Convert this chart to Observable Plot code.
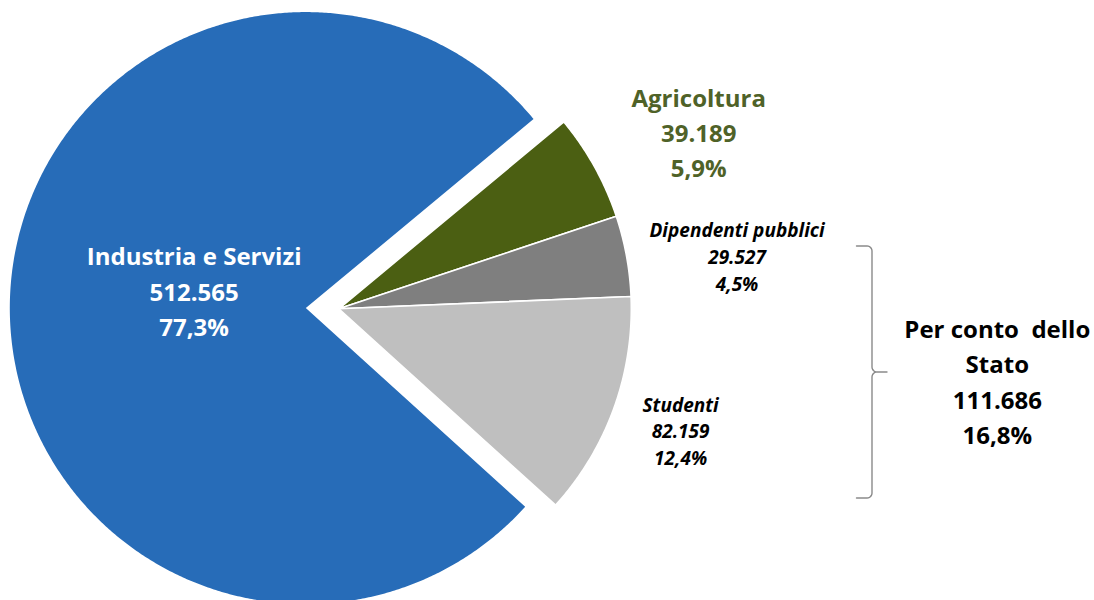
<!DOCTYPE html>
<html><head><meta charset="utf-8">
<script src="https://cdn.jsdelivr.net/npm/d3@7"></script>
<script src="https://cdn.jsdelivr.net/npm/@observablehq/plot@0.6"></script>
<style>
body{margin:0;background:#fff;}
svg text{white-space:pre;}
</style></head><body><div id="chart"></div>
<script>
// ---------- Data ----------
const categories = ["Agricoltura", "Dipendenti pubblici", "Studenti", "Industria e Servizi"];
const values = [39189, 29527, 82159, 512565];
const groupLabel = "Per conto  dello\nStato";
const groupMembers = ["Dipendenti pubblici", "Studenti"];

// ---------- Layout / style ----------
const W = 1094, H = 600;
const R = 292.5;               // pie radius (px)
const CX = 338.3, CY = 308.3;  // pie centre (px)
const startDeg = 50.3;         // first slice start, clockwise from 12 o'clock
const sliceColors = ["#4B5F12", "#7F7F7F", "#BFBFBF", "#276CB8"];
const explodePx = [0, 0, 0, 33];
const outerPx = [R, R, R, 296];
const sliceStroke = ["#fff", "#fff", "#fff", "none"];
// label placement: radius (in pie radii) and angle offset from slice bisector
const labelR = [1.310, 1.363, 1.285, 0.394];
const labelDTheta = [9.0, 7.8, 4.7, -15.5];
const labelFill = ["#4F6228", "#000", "#000", "#fff"];
const labelSize = [24, 19, 19, 24];
const labelStyle = ["normal", "italic", "italic", "normal"];
const labelLH = [1.46, 1.41, 1.41, 1.48];
const groupLabelR = 2.298, groupLabelDTheta = -0.3;
const FONT = "Open Sans";

const it = d3.formatLocale({decimal: ",", thousands: ".", grouping: [3], currency: ["", "€"]});
const fmtN = it.format(",d");
const fmtP = it.format(".1f");

const total = d3.sum(values);
const rad = d => d * Math.PI / 180;
const polar = (deg, r) => [r * Math.sin(rad(deg)), r * Math.cos(rad(deg))];

// slices
let acc = startDeg;
const slices = categories.map((name, i) => {
  const span = values[i] / total * 360;
  const a0 = acc, a1 = acc + span;
  acc = a1;
  const mid = (a0 + a1) / 2;
  const [ox, oy] = polar(mid, explodePx[i] / R);
  const ro = outerPx[i] / R;
  const pts = [{x: ox, y: oy}];
  const n = Math.max(2, Math.ceil(span / 0.4));
  for (let k = 0; k <= n; k++) {
    const [px, py] = polar(a0 + span * k / n, ro);
    pts.push({x: ox + px, y: oy + py});
  }
  const [lx, ly] = polar(mid + labelDTheta[i], labelR[i]);
  const label = {
    x: ox + lx, y: oy + ly,
    text: `${name}\n${fmtN(values[i])}\n${fmtP(values[i] / total * 100)}%`
  };
  return {name, i, a0, a1, mid, pts, label};
});

// group label ("Per conto dello Stato")
const members = slices.filter(s => groupMembers.includes(s.name));
const gVal = d3.sum(members, s => values[s.i]);
const gMid = (d3.min(members, s => s.a0) + d3.max(members, s => s.a1)) / 2;
const [gx, gy] = polar(gMid + groupLabelDTheta, groupLabelR);
const groupText = [{x: gx, y: gy, text: `${groupLabel}\n${fmtN(gVal)}\n${fmtP(gVal / total * 100)}%`}];

// brace (decoration) in pie-radius units
const bx = (871.5 - CX) / R, bTop = (CY - 245.5) / R, bBot = (CY - 497.5) / R;
const tipW = 15.5 / R, pointW = 15 / R, cr = 5 / R;
const bMid = (bTop + bBot) / 2;
function arc(cx, cy, r, d0, d1) {
  const out = [];
  for (let k = 0; k <= 6; k++) { const d = d0 + (d1 - d0) * k / 6; const [px, py] = polar(d, r); out.push({x: cx + px, y: cy + py}); }
  return out;
}
const brace = [
  {x: bx - tipW, y: bTop},
  ...arc(bx - cr, bTop - cr, cr, 0, 90),
  ...arc(bx + cr, bMid + cr, cr, 270, 180),
  {x: bx + pointW, y: bMid},
  ...arc(bx + cr, bMid - cr, cr, 0, -90),
  ...arc(bx - cr, bBot + cr, cr, 90, 180),
  {x: bx - tipW, y: bBot}
];

const marks = [
  ...slices.map(s => Plot.line(s.pts, {
    x: "x", y: "y", curve: "linear-closed",
    fill: sliceColors[s.i], stroke: sliceStroke[s.i], strokeWidth: 1.6, strokeLinejoin: "round"
  })),
  ...slices.map(s => Plot.text([s.label], {
    x: "x", y: "y", text: "text", lineAnchor: "bottom", lineHeight: labelLH[s.i],
    fill: labelFill[s.i], fontSize: labelSize[s.i], fontWeight: "bold", fontStyle: labelStyle[s.i],
    fontFamily: FONT
  })),
  Plot.line(brace, {x: "x", y: "y", stroke: "#8a8a8a", strokeWidth: 1.4, curve: "linear"}),
  Plot.text(groupText, {
    x: "x", y: "y", text: "text", lineAnchor: "bottom", lineHeight: 1.46,
    fill: "#000", fontSize: 24, fontWeight: "bold", fontFamily: FONT
  })
];

const chart = Plot.plot({
  width: W, height: H, margin: 0,
  x: {domain: [-CX / R, (W - CX) / R], axis: null},
  y: {domain: [-(H - CY) / R, CY / R], axis: null},
  style: {background: "#fff", overflow: "visible"},
  marks
});
document.getElementById("chart").appendChild(chart);
</script></body></html>
